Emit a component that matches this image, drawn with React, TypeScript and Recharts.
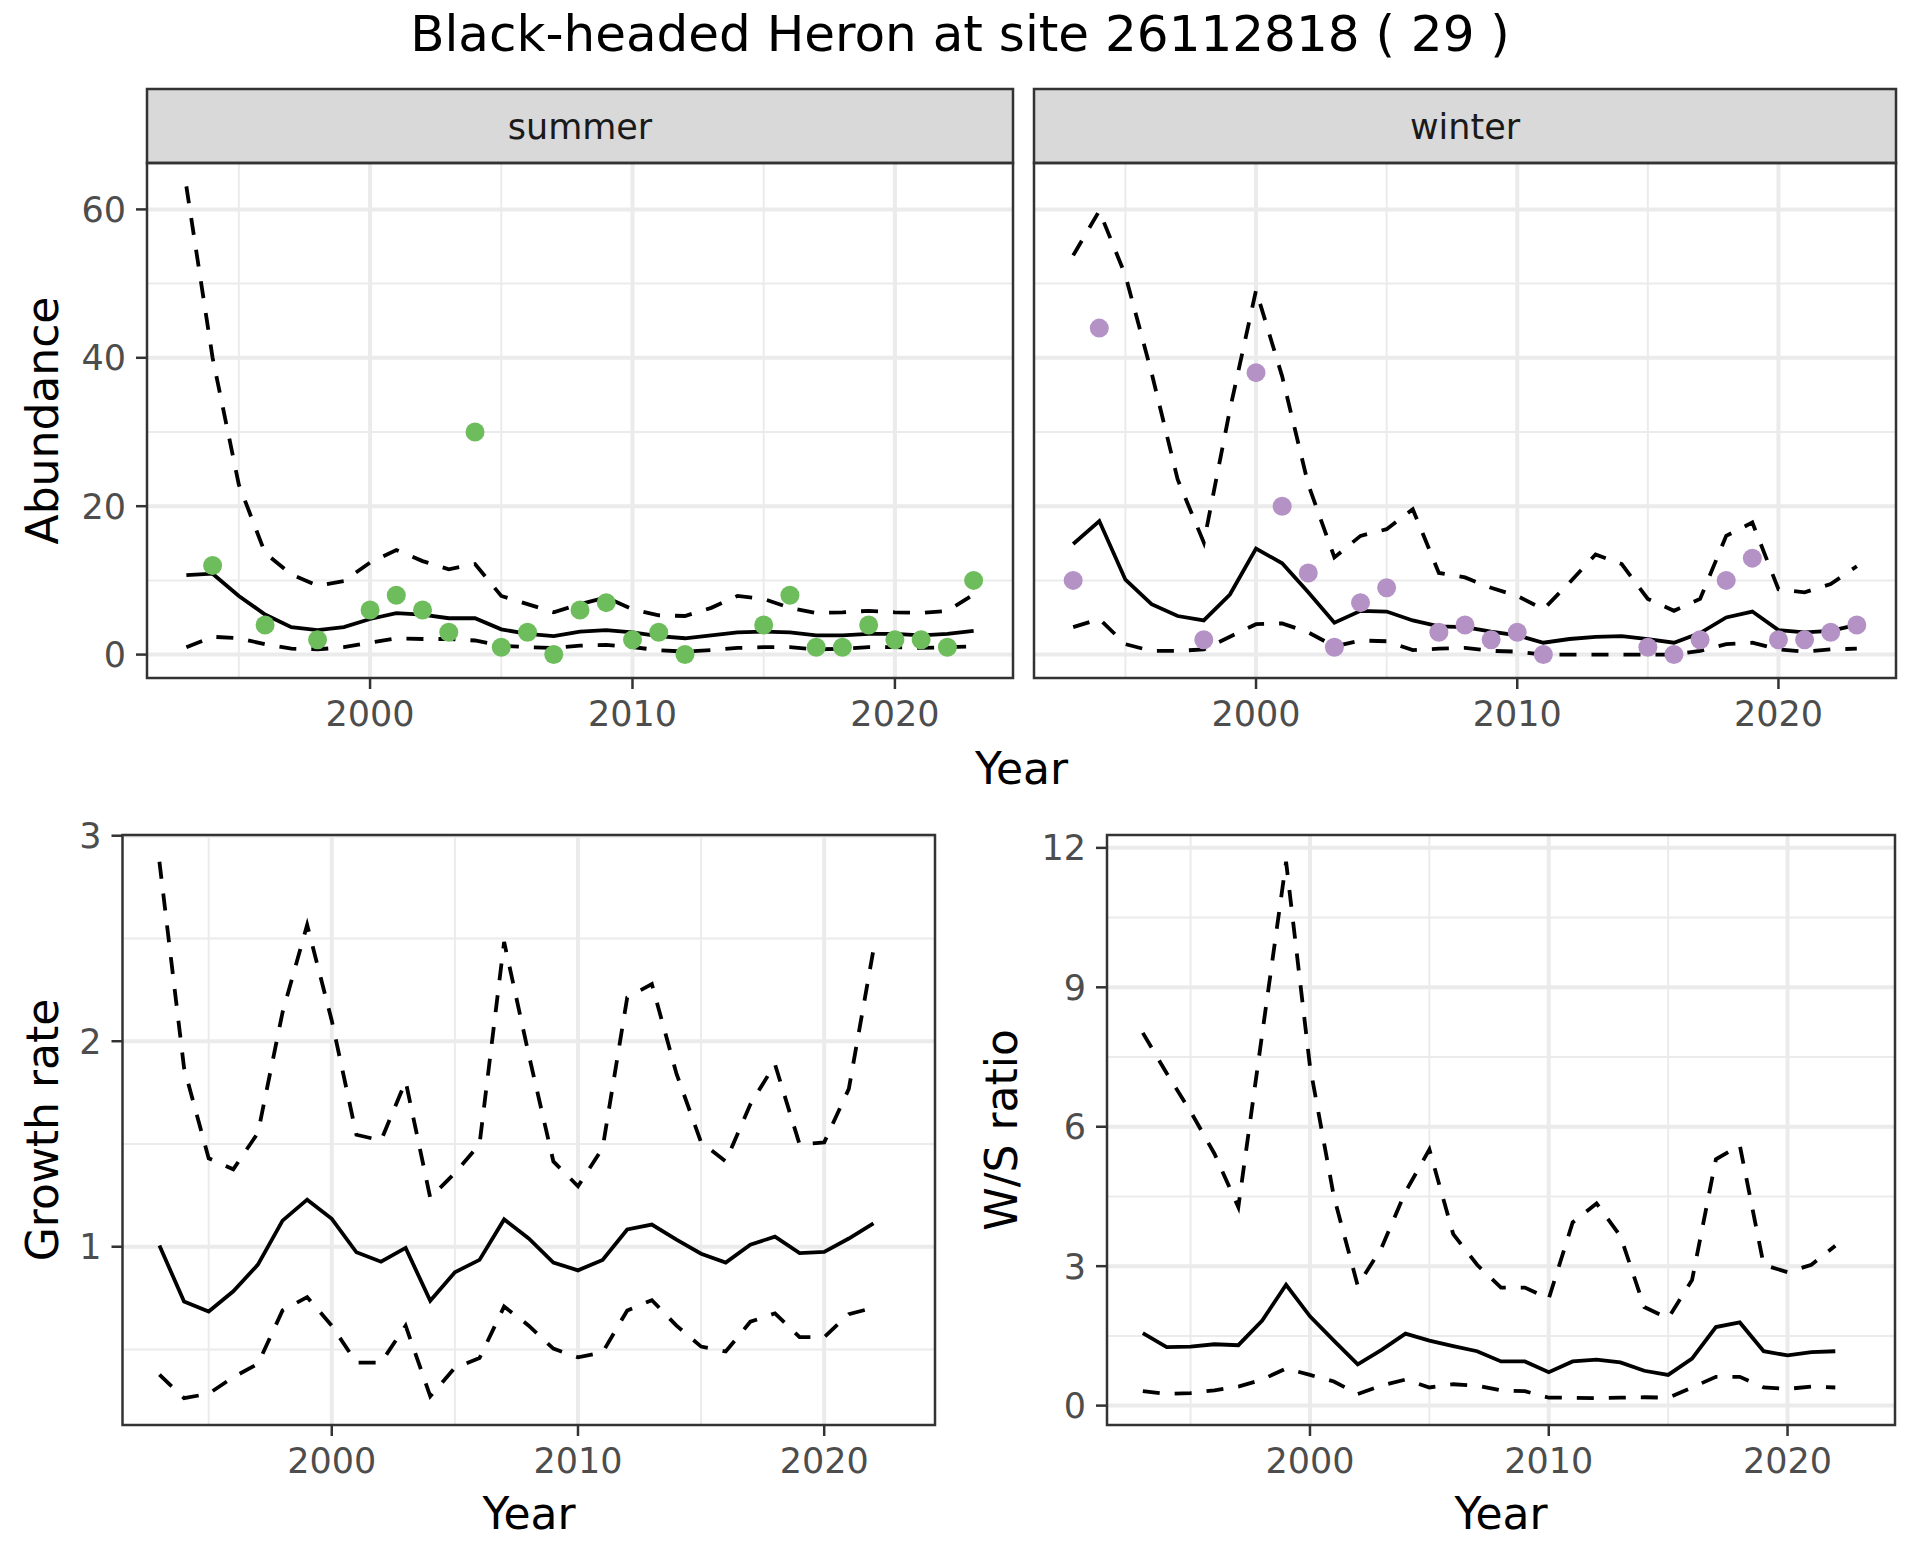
import { CartesianGrid, ComposedChart, Line, Scatter, XAxis, YAxis } from 'recharts'

// years
const topYears = [1993, 1994, 1995, 1996, 1997, 1998, 1999, 2000, 2001, 2002, 2003, 2004, 2005, 2006, 2007, 2008, 2009, 2010, 2011, 2012, 2013, 2014, 2015, 2016, 2017, 2018, 2019, 2020, 2021, 2022, 2023]
const bottomYears = [1993, 1994, 1995, 1996, 1997, 1998, 1999, 2000, 2001, 2002, 2003, 2004, 2005, 2006, 2007, 2008, 2009, 2010, 2011, 2012, 2013, 2014, 2015, 2016, 2017, 2018, 2019, 2020, 2021, 2022]

// summer abundance
const summerMean = [10.7, 10.9, 7.9, 5.4, 3.7, 3.3, 3.7, 4.8, 5.6, 5.4, 4.9, 4.9, 3.4, 2.8, 2.5, 3.1, 3.3, 3.0, 2.5, 2.2, 2.6, 3.0, 3.1, 3.0, 2.6, 2.6, 2.8, 2.8, 2.6, 2.8, 3.2]
const summerUpper = [63.1, 40.0, 22.9, 13.7, 10.8, 9.3, 9.9, 12.4, 14.1, 12.6, 11.5, 12.2, 7.9, 6.8, 5.7, 6.8, 7.7, 6.1, 5.3, 5.2, 6.3, 7.9, 7.5, 6.3, 5.6, 5.7, 5.9, 5.7, 5.6, 5.9, 8.1]
const summerLower = [1.0, 2.4, 2.2, 1.4, 0.8, 0.7, 1.0, 1.6, 2.2, 2.1, 2.1, 1.9, 1.2, 1.0, 0.9, 1.2, 1.3, 1.0, 0.6, 0.4, 0.6, 0.9, 1.0, 1.0, 0.7, 0.8, 1.0, 1.0, 0.9, 1.0, 1.1]
const summerObs = [null, 12, null, 4, null, 2, null, 6, 8, 6, 3, 30, 1, 3, 0, 6, 7, 2, 3, 0, null, null, 4, 8, 1, 1, 4, 2, 2, 1, 10]

// winter abundance
const winterMean = [14.9, 18.0, 10.1, 6.8, 5.2, 4.6, 8.1, 14.3, 12.3, 8.4, 4.3, 5.9, 5.8, 4.6, 3.8, 3.7, 3.1, 2.6, 1.6, 2.1, 2.4, 2.5, 2.1, 1.6, 2.9, 5.0, 5.8, 3.3, 3.0, 3.2, 4.0]
const winterUpper = [53.8, 59.8, 51.1, 38.0, 23.6, 15.1, 33.0, 49.1, 37.5, 22.9, 13.1, 16.0, 16.9, 19.6, 11.0, 10.4, 9.0, 7.9, 6.1, 9.7, 13.5, 12.2, 7.5, 5.9, 7.5, 16.0, 17.8, 8.8, 8.4, 9.5, 11.9]
const winterLower = [3.7, 4.8, 1.4, 0.5, 0.5, 0.7, 2.4, 4.1, 4.2, 3.0, 1.1, 1.9, 1.8, 0.6, 0.8, 0.9, 0.5, 0.4, 0, 0, 0, 0, 0, 0, 0.5, 1.4, 1.6, 0.7, 0.4, 0.7, 0.8]
const winterObs = [10, 44, null, null, null, 2, null, 38, 20, 11, 1, 7, 9, null, 3, 4, 2, 3, 0, null, null, null, 1, 0, 2, 10, 13, 2, 2, 3, 4]

// growth rate
const growthMean = [1.006, 0.733, 0.685, 0.783, 0.913, 1.127, 1.229, 1.136, 0.973, 0.927, 0.994, 0.737, 0.876, 0.936, 1.133, 1.04, 0.923, 0.885, 0.936, 1.084, 1.108, 1.034, 0.966, 0.923, 1.01, 1.049, 0.969, 0.975, 1.04, 1.114]
const growthUpper = [2.873, 1.87, 1.43, 1.377, 1.554, 2.14, 2.566, 2.1, 1.545, 1.517, 1.805, 1.238, 1.359, 1.498, 2.483, 1.935, 1.415, 1.294, 1.48, 2.213, 2.278, 1.842, 1.508, 1.415, 1.693, 1.888, 1.498, 1.508, 1.768, 2.445]
const growthLower = [0.378, 0.263, 0.285, 0.365, 0.43, 0.69, 0.755, 0.616, 0.436, 0.436, 0.616, 0.272, 0.411, 0.458, 0.709, 0.616, 0.504, 0.462, 0.486, 0.69, 0.74, 0.616, 0.514, 0.49, 0.635, 0.676, 0.56, 0.56, 0.672, 0.703]

// winter / summer ratio
const ratioMean = [1.56, 1.26, 1.27, 1.32, 1.3, 1.83, 2.6, 1.92, 1.4, 0.89, 1.2, 1.55, 1.4, 1.28, 1.17, 0.95, 0.95, 0.72, 0.95, 0.99, 0.93, 0.75, 0.66, 1.01, 1.69, 1.79, 1.17, 1.08, 1.15, 1.17]
const ratioUpper = [8.02, 7.15, 6.33, 5.42, 4.27, 8.0, 11.7, 7.3, 4.5, 2.58, 3.4, 4.6, 5.51, 3.69, 3.03, 2.54, 2.54, 2.3, 3.94, 4.35, 3.65, 2.12, 1.88, 2.7, 5.3, 5.6, 3.03, 2.87, 3.03, 3.44]
const ratioLower = [0.31, 0.25, 0.27, 0.33, 0.41, 0.56, 0.8, 0.66, 0.52, 0.25, 0.43, 0.56, 0.39, 0.46, 0.43, 0.33, 0.31, 0.17, 0.17, 0.16, 0.17, 0.18, 0.17, 0.39, 0.62, 0.62, 0.39, 0.36, 0.41, 0.39]

// ticks
const xTicks = [2000, 2010, 2020]
const xMinor = [1995, 2005, 2015]
const abundanceTicks = [0, 20, 40, 60]
const abundanceMinor = [10, 30, 50]
const growthTicks = [1, 2, 3]
const growthMinor = [0.5, 1.5, 2.5]
const ratioTicks = [0, 3, 6, 9, 12]
const ratioMinor = [1.5, 4.5, 7.5, 10.5]

const FONT = 'DejaVu Sans'
const GREEN = '#6EBD5C'
const PURPLE = '#B592C6'

// ggplot style 5% expansion
function expand(lo: number, hi: number): [number, number] {
  const pad = (hi - lo) * 0.05
  return [lo - pad, hi + pad]
}

const xDomain = expand(1993, 2023)
const abundanceDomain = expand(0, Math.max(...summerUpper, ...winterUpper))
const growthDomain = expand(Math.min(...growthLower), Math.max(...growthUpper))
const ratioDomain = expand(Math.min(...ratioLower), Math.max(...ratioUpper))

type Row = { year: number; mean: number; lower: number; upper: number }
type Pt = { year: number; obs: number }

function rowsOf(years: number[], mean: number[], lower: number[], upper: number[]): Row[] {
  return years.map((year, i) => ({ year, mean: mean[i], lower: lower[i], upper: upper[i] }))
}

function pointsOf(years: number[], obs: (number | null)[]): Pt[] {
  return years
    .map((year, i) => ({ year, obs: obs[i] }))
    .filter((p): p is Pt => p.obs !== null)
}

const summerRows = rowsOf(topYears, summerMean, summerLower, summerUpper)
const winterRows = rowsOf(topYears, winterMean, winterLower, winterUpper)
const growthRows = rowsOf(bottomYears, growthMean, growthLower, growthUpper)
const ratioRows = rowsOf(bottomYears, ratioMean, ratioLower, ratioUpper)
const summerPoints = pointsOf(topYears, summerObs)
const winterPoints = pointsOf(topYears, winterObs)

const tickStyle = { fill: '#4D4D4D', fontSize: 35, fontFamily: FONT }
const tickLine = { stroke: '#333333', strokeWidth: 2.5 }
const PAD = 30 // room above the plot for the top tick label

type PanelProps = {
  rows: Row[]
  points?: Pt[]
  color?: string
  left: number
  top: number
  width: number
  height: number
  yWidth: number
  showY: boolean
  yDomain: [number, number]
  yTicks: number[]
  yMinor: number[]
}

// top/height describe the plot area + x axis; PAD is added above
function Panel({ rows, points, color, left, top, width, height, yWidth, showY, yDomain, yTicks, yMinor }: PanelProps) {
  return (
    <div style={{ position: 'absolute', left, top: top - PAD }}>
      <ComposedChart width={width} height={height + PAD} data={rows} margin={{ top: PAD, right: 0, bottom: 0, left: 0 }}>
        <CartesianGrid stroke="#EBEBEB" strokeWidth={2} horizontalValues={yMinor} verticalValues={xMinor} />
        <CartesianGrid stroke="#EBEBEB" strokeWidth={4} horizontalValues={yTicks} verticalValues={xTicks} />
        <XAxis
          dataKey="year"
          type="number"
          domain={xDomain}
          ticks={xTicks}
          interval={0}
          allowDataOverflow
          axisLine={false}
          tickLine={tickLine}
          tickSize={11}
          tickMargin={12}
          tick={tickStyle}
          height={80}
        />
        <YAxis
          type="number"
          domain={yDomain}
          ticks={yTicks}
          interval={0}
          allowDataOverflow
          hide={!showY}
          width={yWidth}
          axisLine={false}
          tickLine={tickLine}
          tickSize={11}
          tickMargin={10}
          tick={tickStyle}
        />
        <Line dataKey="upper" type="linear" stroke="#000" strokeWidth={3.8} strokeDasharray="17 15" dot={false} activeDot={false} isAnimationActive={false} />
        <Line dataKey="lower" type="linear" stroke="#000" strokeWidth={3.8} strokeDasharray="17 15" dot={false} activeDot={false} isAnimationActive={false} />
        <Line dataKey="mean" type="linear" stroke="#000" strokeWidth={3.8} dot={false} activeDot={false} isAnimationActive={false} />
        {points ? (
          <Scatter
            data={points}
            dataKey="obs"
            isAnimationActive={false}
            shape={(p: any) => <circle cx={p.cx} cy={p.cy} r={9.5} fill={color} />}
          />
        ) : null}
      </ComposedChart>
    </div>
  )
}

export default function App() {
  const border = { fill: 'none', stroke: '#333333', strokeWidth: 2.5 }
  return (
    <div style={{ position: 'relative', width: 1920, height: 1560, background: '#fff', fontFamily: FONT }}>
      <style>{'body{margin:0}'}</style>
      <Panel rows={summerRows} points={summerPoints} color={GREEN} left={0} top={163} width={1013} height={595} yWidth={147} showY yDomain={abundanceDomain} yTicks={abundanceTicks} yMinor={abundanceMinor} />
      <Panel rows={winterRows} points={winterPoints} color={PURPLE} left={1034} top={163} width={862} height={595} yWidth={0} showY={false} yDomain={abundanceDomain} yTicks={abundanceTicks} yMinor={abundanceMinor} />
      <Panel rows={growthRows} left={0} top={835} width={935} height={670} yWidth={122.5} showY yDomain={growthDomain} yTicks={growthTicks} yMinor={growthMinor} />
      <Panel rows={ratioRows} left={960} top={835} width={935} height={670} yWidth={147} showY yDomain={ratioDomain} yTicks={ratioTicks} yMinor={ratioMinor} />

      <svg width={1920} height={1560} style={{ position: 'absolute', left: 0, top: 0, pointerEvents: 'none' }} fontFamily={FONT}>
        <text x={960} y={51} textAnchor="middle" fontSize={50} fill="#000">
          Black-headed Heron at site 26112818 ( 29 )
        </text>

        <rect x={147} y={89} width={866} height={74} fill="#D9D9D9" stroke="#333333" strokeWidth={2.5} />
        <rect x={1034} y={89} width={862} height={74} fill="#D9D9D9" stroke="#333333" strokeWidth={2.5} />
        <text x={580} y={139} textAnchor="middle" fontSize={35} fill="#1A1A1A">summer</text>
        <text x={1465} y={139} textAnchor="middle" fontSize={35} fill="#1A1A1A">winter</text>

        <rect x={147} y={163} width={866} height={515} {...border} />
        <rect x={1034} y={163} width={862} height={515} {...border} />
        <rect x={122.5} y={835} width={812.5} height={590} {...border} />
        <rect x={1107} y={835} width={788} height={590} {...border} />

        <text x={1021.5} y={784} textAnchor="middle" fontSize={44} fill="#000">Year</text>
        <text x={529} y={1529} textAnchor="middle" fontSize={44} fill="#000">Year</text>
        <text x={1501} y={1529} textAnchor="middle" fontSize={44} fill="#000">Year</text>
        <text transform="translate(58 420.5) rotate(-90)" textAnchor="middle" fontSize={44} fill="#000">Abundance</text>
        <text transform="translate(58 1130) rotate(-90)" textAnchor="middle" fontSize={44} fill="#000">Growth rate</text>
        <text transform="translate(1017 1130) rotate(-90)" textAnchor="middle" fontSize={44} fill="#000">W/S ratio</text>
      </svg>
    </div>
  )
}
